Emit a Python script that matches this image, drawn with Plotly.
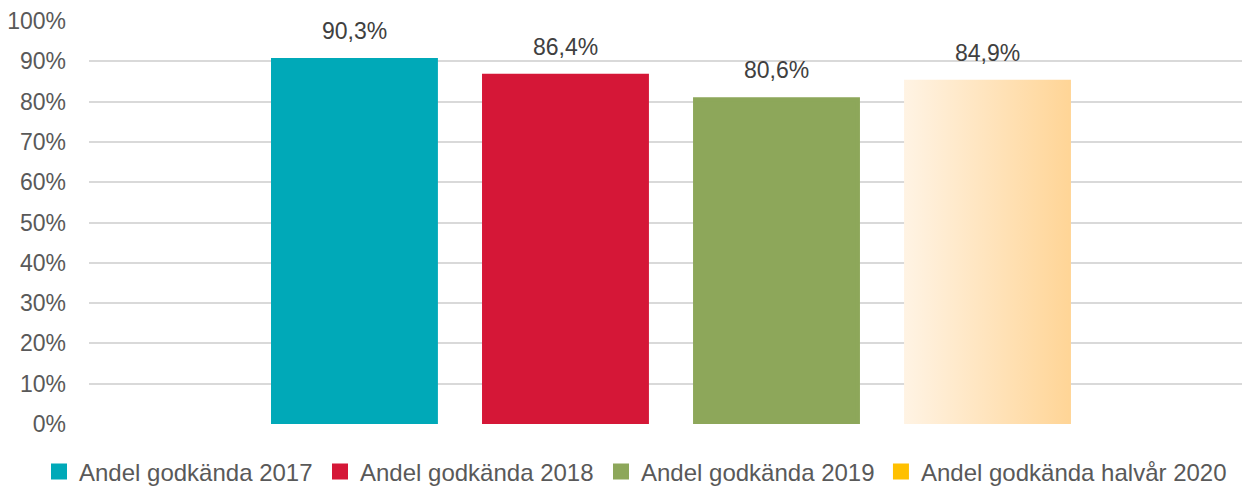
import plotly.graph_objects as go

series = ["Andel godkända 2017", "Andel godkända 2018", "Andel godkända 2019", "Andel godkända halvår 2020"]
values = [90.3, 86.4, 80.6, 84.9]
colors = ["#00A9B8", "#D51737", "#8DA75A", "#FFC000"]
y_ticks = list(range(0, 101, 10))
y_ticktext = [f"{t}%" for t in y_ticks]
legend_ids = ["legend", "legend", "legend", "legend2"]

fig = go.Figure()
for i, (name, v, c, lg) in enumerate(zip(series, values, colors, legend_ids)):
    fig.add_trace(go.Bar(
        x=[i], y=[v], name=name, width=0.772,
        marker=dict(color=c, line=dict(width=4, color=c)),
        legend=lg,
        hoverinfo="skip",
    ))
    fig.add_annotation(
        x=i, y=v, text=f"{v:.1f}".replace(".", ",") + "%",
        showarrow=False, yanchor="middle", yshift=29,
        font=dict(family="Liberation Sans, Arial", size=23, color="#404040"),
    )

legend_common = dict(
    orientation="h", xref="container", xanchor="left",
    yref="container", y=0.033, yanchor="middle",
    font=dict(size=24, color="#595959"),
    traceorder="normal", itemwidth=30, bgcolor="rgba(0,0,0,0)",
)

fig.update_layout(
    width=1242, height=488,
    margin=dict(l=89, r=0, t=21, b=64, autoexpand=False),
    paper_bgcolor="white", plot_bgcolor="white",
    font=dict(family="Liberation Sans, Arial", color="#595959"),
    showlegend=True,
    legend=dict(x=0.0314, entrywidth=236, entrywidthmode="pixels", **legend_common),
    legend2=dict(x=0.7093, **legend_common),
    xaxis=dict(range=[-1.258, 4.206], showticklabels=False, showgrid=False,
               zeroline=False, showline=False, ticks=""),
    yaxis=dict(range=[0, 100], tickvals=y_ticks, ticktext=y_ticktext,
               showgrid=True, gridcolor="#D9D9D9", gridwidth=2,
               zeroline=False, showline=False, ticks="",
               ticklabelstandoff=22,
               tickfont=dict(size=23, color="#595959")),
)

post = """
document.body.style.margin = '0';
document.body.style.padding = '0';
var gd = document.getElementById('{plot_id}');
function applyGrad(){
  var svg = gd.querySelector('svg.main-svg');
  if(!svg) return;
  var ns = 'http://www.w3.org/2000/svg';
  var defs = svg.querySelector('defs');
  if(!defs){ defs = document.createElementNS(ns,'defs'); svg.insertBefore(defs, svg.firstChild); }
  if(!document.getElementById('bargrad')){
    var lg = document.createElementNS(ns,'linearGradient');
    lg.setAttribute('id','bargrad');
    lg.setAttribute('x1','0'); lg.setAttribute('y1','0');
    lg.setAttribute('x2','1'); lg.setAttribute('y2','0');
    [['0','#FFF3E3'],['1','#FFD597']].forEach(function(s){
      var st = document.createElementNS(ns,'stop');
      st.setAttribute('offset', s[0]); st.setAttribute('stop-color', s[1]);
      lg.appendChild(st);
    });
    defs.appendChild(lg);
  }
  var traces = gd.querySelectorAll('.barlayer .trace');
  if(traces.length > 3){
    traces[3].querySelectorAll('path').forEach(function(p){
      p.style.fill = 'url(#bargrad)';
      p.style.stroke = 'url(#bargrad)';
    });
  }
}
applyGrad();
gd.on('plotly_afterplot', applyGrad);
"""

fig.write_html("out.html", post_script=post, config={"displayModeBar": False})
